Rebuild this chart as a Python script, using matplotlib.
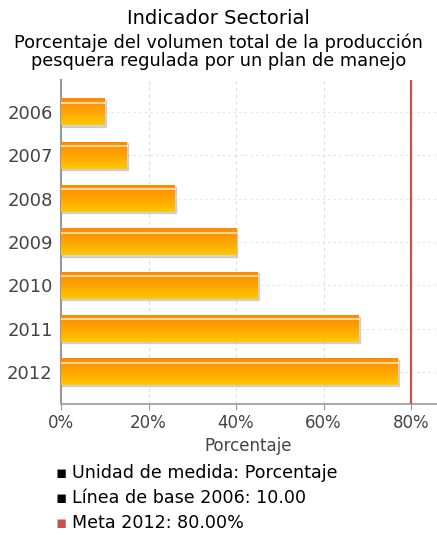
import numpy as np
import matplotlib
matplotlib.use("Agg")
import matplotlib.pyplot as plt
from matplotlib.colors import LinearSegmentedColormap

years = ['2006', '2007', '2008', '2009', '2010', '2011', '2012']
values = [10, 15, 26, 40, 45, 68, 77]
meta = 80
xticks = [0, 20, 40, 60, 80]
notes = ['Unidad de medida: Porcentaje', 'Línea de base 2006: 10.00', 'Meta 2012: 80.00%']
note_colors = ['black', 'black', '#c8504f']

W, H = 437, 535
fig = plt.figure(figsize=(W/100, H/100), dpi=100)
ax = fig.add_axes([61/W, 1-404/H, (436-61)/W, (404-80)/H])

cmap = LinearSegmentedColormap.from_list('bar', ['#ff8a00', '#ffa400', '#ffc800'])
grad = np.linspace(0, 1, 64).reshape(-1, 1)
bh = 0.61
for i, v in enumerate(values):
    # shadow under the bar
    ax.add_patch(plt.Rectangle((0, i - bh/2 + 0.03), v + 0.3, bh, color='#bbbbbb', alpha=0.6, zorder=2))
    ax.imshow(grad, cmap=cmap, aspect='auto', extent=(0, v, i + bh/2, i - bh/2), zorder=3)
    ax.plot([0, v], [i - bh/2 + 0.09, i - bh/2 + 0.09], color='#ffe6c0', lw=1.2, zorder=4)

ax.axvline(meta, color='#c8504f', lw=1.6, zorder=5)
ax.set_xlim(0, 85.7)
ax.set_ylim(len(years) - 0.26, -0.74)

ax.set_yticks(range(len(years)))
ax.set_yticklabels(years, fontsize=13, color='#444444')
ax.set_xticks(xticks)
ax.set_xticklabels(['%d%%' % t for t in xticks], fontsize=12, color='#444444')
ax.set_xlabel('Porcentaje', fontsize=12, color='#444444', labelpad=4)
ax.tick_params(axis='y', length=0, pad=6)
ax.tick_params(axis='x', length=4, color='#999999', pad=3)

for t in [20, 40, 60]:
    ax.axvline(t, color='#dddddd', lw=0.8, ls=(0, (3, 3)), zorder=1)
for i in range(len(years)):
    ax.axhline(i, color='#e4e4e4', lw=0.8, ls=(0, (2, 3)), zorder=1)

for s in ['top', 'right']:
    ax.spines[s].set_visible(False)
ax.spines['left'].set_color('#999999')
ax.spines['bottom'].set_color('#aaaaaa')
ax.spines['left'].set_linewidth(1.5)
ax.spines['bottom'].set_linewidth(1.5)

fig.text(0.5, 1-18/H, 'Indicador Sectorial', ha='center', va='center', fontsize=14, color='black')
fig.text(0.5, 1-52/H, 'Porcentaje del volumen total de la producción\npesquera regulada por un plan de manejo',
         ha='center', va='center', fontsize=12.8, color='black', linespacing=1.0)

for k, (n, c) in enumerate(zip(notes, note_colors)):
    y = 1 - (473 + k*25)/H
    fig.text(61/W, y, '\u25aa', ha='center', va='center', fontsize=12, color=c)
    fig.text(72/W, y, n, ha='left', va='center', fontsize=12.6, color='black')

fig.savefig('out.png', dpi=100)
